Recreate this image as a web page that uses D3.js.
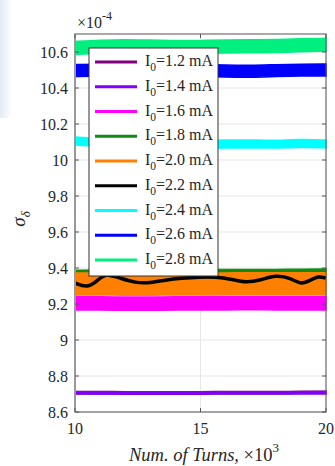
<!DOCTYPE html>
<html>
<head>
<meta charset="utf-8">
<script src="https://cdn.jsdelivr.net/npm/d3@7"></script>
<style>
  body { margin: 0; background: #fff; }
  svg { display: block; font-family: "Liberation Serif", "Times New Roman", serif; }
</style>
</head>
<body>
<div id="chart"></div>
<script>
// sample turns (x10^3) for the noisy bands
var turns = [10, 11, 12, 13, 14, 15, 16, 17, 18, 19, 20];
var labels = ["1.2", "1.4", "1.6", "1.8", "2.0", "2.2", "2.4", "2.6", "2.8"];
var colors = ["#800080", "#8000ff", "#ff00ff", "#138a13", "#ff8000", "#000000", "#00ffff", "#0000ff", "#00f080"];

// band centre values (x10^-4) and half widths
var s12 = [8.707, 8.707, 8.706, 8.706, 8.706, 8.706, 8.707, 8.707, 8.707, 8.708, 8.708];
var s14 = [8.707, 8.706, 8.706, 8.706, 8.706, 8.707, 8.707, 8.707, 8.707, 8.707, 8.708];
var s16 = [9.204, 9.203, 9.202, 9.202, 9.203, 9.204, 9.204, 9.205, 9.204, 9.204, 9.204];
var s18 = [9.380, 9.381, 9.381, 9.382, 9.382, 9.383, 9.383, 9.384, 9.384, 9.385, 9.386];
var s20 = [9.311, 9.311, 9.310, 9.310, 9.311, 9.311, 9.312, 9.312, 9.312, 9.312, 9.312];
var s24 = [10.106, 10.097, 10.086, 10.084, 10.085, 10.086, 10.089, 10.089, 10.087, 10.093, 10.089];
var s26 = [10.497, 10.500, 10.500, 10.500, 10.500, 10.498, 10.494, 10.492, 10.497, 10.500, 10.500];
var s28 = [10.622, 10.630, 10.634, 10.630, 10.628, 10.628, 10.630, 10.633, 10.632, 10.638, 10.640];
var halfW = [0.007, 0.006, 0.037, 0.008, 0.061, 0, 0.022, 0.033, 0.036];

// the 2.2 mA run is a smooth wavy line
var turns22 = [10, 10.5, 10.9, 11.2, 11.8, 12.4, 13.0, 13.6, 14.2, 15.0, 15.6, 16.2, 16.8, 17.4, 18.0, 18.6, 19.0, 19.4, 19.7, 20];
var s22 = [9.317, 9.289, 9.330, 9.370, 9.344, 9.317, 9.317, 9.333, 9.344, 9.350, 9.350, 9.340, 9.317, 9.333, 9.361, 9.344, 9.306, 9.333, 9.356, 9.344];

var yTicks = [8.6, 8.8, 9, 9.2, 9.4, 9.6, 9.8, 10, 10.2, 10.4, 10.6];
var xTicks = [10, 15, 20];

var bands = [s12, s14, s16, s18, s20, null, s24, s26, s28];

var W = 335, H = 466;
var margin = {top: 34, right: 9, bottom: 54, left: 75};

var svg = d3.select("#chart").append("svg")
    .attr("width", W)
    .attr("height", H);

// faint bluish strip at the left edge of the screenshot
var grad = svg.append("defs").append("linearGradient")
    .attr("id", "edge").attr("x1", 0).attr("x2", 1);
grad.append("stop").attr("offset", 0).attr("stop-color", "#e3e9f4");
grad.append("stop").attr("offset", 1).attr("stop-color", "#ffffff");
svg.append("rect").attr("x", 0).attr("y", 0).attr("width", 12).attr("height", 118).attr("fill", "url(#edge)");

var x = d3.scaleLinear().domain([10, 20]).range([margin.left, W - margin.right]);
var y = d3.scaleLinear().domain([8.6, 10.7]).range([H - margin.bottom, margin.top]);

// grid
svg.append("g").selectAll("line").data(yTicks).enter().append("line")
    .attr("x1", x(10)).attr("x2", x(20))
    .attr("y1", function (d) { return y(d); })
    .attr("y2", function (d) { return y(d); })
    .attr("stroke", "#e6e6e6");
svg.append("g").selectAll("line").data(xTicks).enter().append("line")
    .attr("x1", function (d) { return x(d); })
    .attr("x2", function (d) { return x(d); })
    .attr("y1", y(8.6)).attr("y2", y(10.7))
    .attr("stroke", "#e6e6e6");

var area = d3.area().curve(d3.curveBasis)
    .x(function (d) { return x(d.t); })
    .y0(function (d) { return y(d.v - d.h); })
    .y1(function (d) { return y(d.v + d.h); });
var line = d3.line().curve(d3.curveBasis)
    .x(function (d) { return x(d.t); })
    .y(function (d) { return y(d.v); });

var plot = svg.append("g");
bands.forEach(function (s, i) {
    if (s) {
        var pts = turns.map(function (t, j) { return {t: t, v: s[j], h: halfW[i]}; });
        plot.append("path").attr("d", area(pts))
            .attr("fill", colors[i])
            .attr("stroke", colors[i]).attr("stroke-width", 1.5);
    } else {
        var pts2 = turns22.map(function (t, j) { return {t: t, v: s22[j]}; });
        plot.append("path").attr("d", line(pts2))
            .attr("fill", "none")
            .attr("stroke", colors[i]).attr("stroke-width", 3.5);
    }
});

// box and ticks
var axisCol = "#555";
svg.append("rect")
    .attr("x", x(10)).attr("y", y(10.7))
    .attr("width", x(20) - x(10)).attr("height", y(8.6) - y(10.7))
    .attr("fill", "none").attr("stroke", axisCol).attr("stroke-width", 1);
svg.append("line")
    .attr("x1", x(10)).attr("x2", x(10)).attr("y1", y(10.7)).attr("y2", y(8.6))
    .attr("stroke", "#999").attr("stroke-width", 2);

var yt = svg.append("g");
yt.selectAll(".tl").data(yTicks).enter().append("line")
    .attr("x1", x(10)).attr("x2", x(10) + 4)
    .attr("y1", function (d) { return y(d); }).attr("y2", function (d) { return y(d); })
    .attr("stroke", axisCol);
yt.selectAll(".tr").data(yTicks).enter().append("line")
    .attr("x1", x(20)).attr("x2", x(20) - 4)
    .attr("y1", function (d) { return y(d); }).attr("y2", function (d) { return y(d); })
    .attr("stroke", axisCol);
yt.selectAll("text").data(yTicks).enter().append("text")
    .attr("x", x(10) - 7)
    .attr("y", function (d) { return y(d) + 5.5; })
    .attr("text-anchor", "end")
    .attr("font-size", 16)
    .attr("fill", "#262626")
    .text(function (d) { return d3.format("")(d); });

var xt = svg.append("g");
xt.selectAll(".tb").data(xTicks).enter().append("line")
    .attr("x1", function (d) { return x(d); }).attr("x2", function (d) { return x(d); })
    .attr("y1", y(8.6)).attr("y2", y(8.6) - 4)
    .attr("stroke", axisCol);
xt.selectAll(".tt").data(xTicks).enter().append("line")
    .attr("x1", function (d) { return x(d); }).attr("x2", function (d) { return x(d); })
    .attr("y1", y(10.7)).attr("y2", y(10.7) + 4)
    .attr("stroke", axisCol);
xt.selectAll("text").data(xTicks).enter().append("text")
    .attr("x", function (d) { return x(d); })
    .attr("y", y(8.6) + 22)
    .attr("text-anchor", "middle")
    .attr("font-size", 16)
    .attr("fill", "#262626")
    .text(function (d) { return d; });

// exponent label
var ex = svg.append("text").attr("x", x(10) + 2).attr("y", 28)
    .attr("font-size", 16).attr("fill", "#262626");
ex.append("tspan").text("\u00d710");
ex.append("tspan").attr("dy", -8).attr("font-size", 12).text("-4");

// axis titles
var xl = svg.append("text").attr("x", 204).attr("y", 461)
    .attr("text-anchor", "middle").attr("font-size", 18.5).attr("fill", "#262626");
xl.append("tspan").attr("font-style", "italic").text("Num. of Turns, ");
xl.append("tspan").text("\u00d710");
xl.append("tspan").attr("dy", -9).attr("font-size", 13).text("3");

var yl = svg.append("text").attr("transform", "translate(25,219) rotate(-90)")
    .attr("text-anchor", "middle").attr("font-size", 19).attr("fill", "#262626")
    .attr("font-style", "italic");
yl.append("tspan").text("\u03c3");
yl.append("tspan").attr("dy", 5).attr("font-size", 13).text("\u03b4");

// legend
var lg = svg.append("g");
var lx = 89, ly = 48, lw = 129, lh = 228, step = 24.75;
lg.append("rect").attr("x", lx).attr("y", ly).attr("width", lw).attr("height", lh)
    .attr("fill", "#fff").attr("stroke", "#333").attr("stroke-width", 1);
var items = lg.selectAll(".item").data(labels).enter().append("g")
    .attr("transform", function (d, i) { return "translate(0," + (ly + 14 + i * step) + ")"; });
items.append("line")
    .attr("x1", lx + 6).attr("x2", lx + 48)
    .attr("stroke", function (d, i) { return colors[i]; })
    .attr("stroke-width", 3);
var it = items.append("text").attr("x", lx + 56).attr("y", 4)
    .attr("font-size", 16).attr("fill", "#262626");
it.append("tspan").text("I");
it.append("tspan").attr("dy", 5).attr("font-size", 11.5).text("0");
it.append("tspan").attr("dy", -5).text(function (d) { return "=" + d + " mA"; });
</script>
</body>
</html>
